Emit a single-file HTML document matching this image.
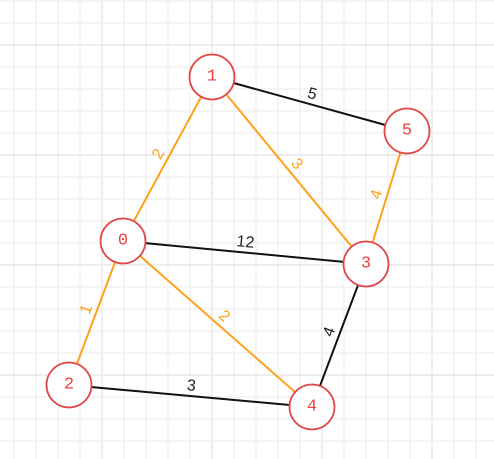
<!DOCTYPE html>
<html><head><meta charset="utf-8"><style>
html,body{margin:0;padding:0;background:#fff;}
svg{display:block;}
</style></head><body>
<svg id="chart" width="494" height="459" xmlns="http://www.w3.org/2000/svg">
<g id="grid"></g>
<g id="edges"></g>
<g id="labels"></g>
<g id="nodes"></g>
</svg>
<script>
const nodeIds = [0, 1, 2, 3, 4, 5];
const nodeX = [123, 212, 69, 366, 312, 407];
const nodeY = [241, 77, 385, 264, 407, 131];
const edgeFrom = [0, 0, 0, 0, 1, 1, 5, 3, 2];
const edgeTo = [1, 2, 3, 4, 3, 5, 3, 4, 4];
const edgeWeight = [2, 1, 12, 2, 3, 5, 4, 4, 3];
const edgeInTree = [true, true, false, true, true, false, true, false, false];

const NS = "http://www.w3.org/2000/svg";
function mk(tag, attrs, parent){
  const e = document.createElementNS(NS, tag);
  for (const k in attrs) e.setAttribute(k, attrs[k]);
  parent.appendChild(e);
  return e;
}
const grid = document.getElementById('grid');
for (let i = 0; i * 22 + 14 < 494; i++) {
  const x = 14 + 22 * i;
  const l = mk('line', {x1:x, y1:0, x2:x, y2:459, stroke: (i % 5 === 4) ? '#e8e8e8' : '#f2f2f2', 'stroke-width':1.5}, grid);
  
  
}
for (let i = 0; i * 22 + 1 < 459; i++) {
  const y = 1 + 22 * i;
  const l = mk('line', {x1:0, y1:y, x2:494, y2:y, stroke: (i % 5 === 2) ? '#e8e8e8' : '#f2f2f2', 'stroke-width':1.5}, grid);
  
  
}
const eg = document.getElementById('edges');
const lg = document.getElementById('labels');
for (let i = 0; i < edgeFrom.length; i++) {
  const a = edgeFrom[i], b = edgeTo[i];
  const x1 = nodeX[a], y1 = nodeY[a], x2 = nodeX[b], y2 = nodeY[b];
  const col = edgeInTree[i] ? '#ffa21a' : '#111';
  const l = mk('line', {x1:x1, y1:y1, x2:x2, y2:y2, stroke:col, 'stroke-width':2}, eg);
  
  
  const dx = x2 - x1, dy = y2 - y1, len = Math.hypot(dx, dy);
  let nx = -dy / len, ny = dx / len;
  if (ny > 0 || (ny === 0 && nx > 0)) { nx = -nx; ny = -ny; }
  const mx = (x1 + x2) / 2 + nx * 10, my = (y1 + y2) / 2 + ny * 10;
  let ang = Math.atan2(dy, dx) * 180 / Math.PI;
  if (ang > 90) ang -= 180;
  if (ang < -90) ang += 180;
  const t = mk('text', {x:mx, y:my, 'text-anchor':'middle', 'dominant-baseline':'central',
    transform:'rotate(' + ang + ' ' + mx + ' ' + my + ')',
    fill: edgeInTree[i] ? '#ffa21a' : '#222', 'font-size':16,
    'font-family':'"Liberation Sans", sans-serif'}, lg);
  t.textContent = edgeWeight[i];
  
  
}
const ng = document.getElementById('nodes');
for (let i = 0; i < nodeIds.length; i++) {
  const g = mk('g', {}, ng);
  
  
  mk('circle', {cx:nodeX[i], cy:nodeY[i], r:22.5, fill:'#fff', stroke:'#e04848', 'stroke-width':1.8}, g);
  const t = mk('text', {x:nodeX[i], y:nodeY[i], 'text-anchor':'middle', 'dominant-baseline':'central',
    fill:'#f03c3c', 'font-size':17, 'font-family':'"Liberation Mono", monospace'}, g);
  t.textContent = nodeIds[i];
  
  
}
</script>
</body></html>
